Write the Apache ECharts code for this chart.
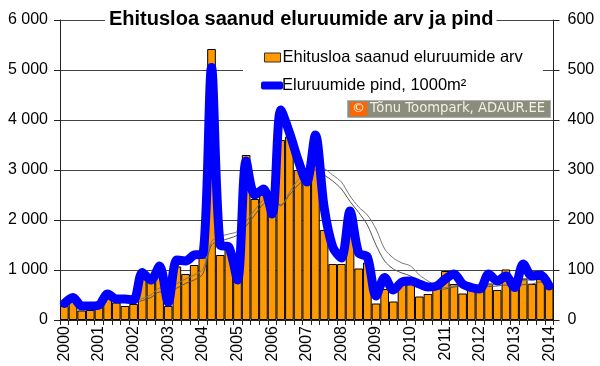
<!DOCTYPE html>
<html><head><meta charset="utf-8">
<style>html,body{margin:0;padding:0;background:#fff}#c{width:600px;height:366px}</style>
<script src="https://cdn.jsdelivr.net/npm/echarts@6/dist/echarts.min.js"></script>
</head><body><div id="c"></div>
<script>
const years = [2000,2001,2002,2003,2004,2005,2006,2007,2008,2009,2010,2011,2012,2013,2014];
const categories = years.flatMap(y => y === 2014 ? [y + ' Q1'] : [y + ' Q1', y + ' Q2', y + ' Q3', y + ' Q4']);
const permits = [280,370,190,200, 340,430,350,280, 320,850,790,1000, 280,1070,920,1100, 1250,5420,1300,1480, 800,3300,2420,2500, 2080,3600,3670,3000, 2740,3100,1800,1120, 1120,2100,1030,1150, 330,620,370,750, 830,470,520,650, 980,720,530,600, 620,730,600,1010, 620,830,720,820, 700];
const area = [33,45,28,28, 30,52,42,42, 40,95,80,108, 35,120,118,130, 132,505,150,146, 80,318,250,262, 212,420,375,320, 276,370,226,146, 124,218,134,126, 48,85,60,76, 78,72,66,68, 82,92,72,65, 62,92,78,88, 65,112,88,90, 68];
const maUpper = [null,null,null,null,null,null,null,null, 360,430,500,640, 650,730,820,900, 1010,1570,1670,1720, 1770,1970,2200,2400, 2430,2280,2550,2800, 2950,3080,3030,2900, 2760,2480,2260,2100, 1820,1420,1240,1140, 1080,900,780,680, 650,680,720,700, 690,700,720,780, 730,790,800,840, 760];
const maLower = [null,null,null,null,null,null,null,null, 340,390,450,560, 560,640,730,800, 920,1500,1580,1630, 1700,1880,2100,2320, 2420,2300,2500,2700, 2850,3000,2900,2780, 2620,2370,2150,1900, 1500,1180,1020,940, 880,760,680,610, 620,660,680,660, 660,670,680,700, 640,710,720,760, 760];
const titleText = 'Ehitusloa saanud eluruumide arv ja pind';
const barName = 'Ehitusloa saanud eluruumide arv';
const lineName = 'Eluruumide pind, 1000m²';
const creditText = 'Tõnu Toompark, ADAUR.EE';

const font = '"Liberation Sans", Arial, sans-serif';
const chart = echarts.init(document.getElementById('c'), null, {renderer:'canvas'});
chart.setOption({
  animation:false,
  backgroundColor:'#fff',
  textStyle:{fontFamily:font,color:'#000'},
  title:{text:titleText,left:105,top:7,padding:[1,3,1,4],backgroundColor:'#fff',
    textStyle:{fontFamily:font,fontSize:20,fontWeight:'bold',color:'#000',lineHeight:22}},
  legend:[
    {data:[{name:barName,icon:'rect'}],left:264,top:49,padding:0,itemWidth:16,itemHeight:9,
     itemStyle:{color:'#ff9900',borderColor:'#333',borderWidth:1},
     textStyle:{fontFamily:font,fontSize:16.5,color:'#000',padding:[0,0,0,-3]}},
    {data:[{name:lineName,icon:'roundRect'}],left:261,top:77,padding:0,itemWidth:22,itemHeight:8,
     itemStyle:{color:'#0000ff',borderWidth:0},
     textStyle:{fontFamily:font,fontSize:16.5,color:'#000',padding:[0,0,0,-6]}}
  ],
  grid:{left:60,right:46.5,top:20,bottom:46,containLabel:false},
  xAxis:{type:'category',data:categories,boundaryGap:true,
    axisLine:{lineStyle:{color:'#222',width:1}},
    axisTick:{show:true,interval:0,length:5,lineStyle:{color:'#222'}},
    axisLabel:{interval:3,rotate:90,fontFamily:font,fontSize:16,color:'#000',margin:6,
      formatter:v=>v.slice(0,4)}},
  yAxis:[
    {type:'value',min:0,max:6000,interval:1000,
     axisLine:{show:true,lineStyle:{color:'#222'}},
     axisTick:{show:true,length:6,lineStyle:{color:'#222'}},
     splitLine:{show:true,lineStyle:{color:'#444',width:1}},
     axisLabel:{fontFamily:font,fontSize:16,color:'#000',margin:12,
       formatter:v=>String(v).replace(/\B(?=(\d{3})+$)/g,' ')}},
    {type:'value',min:0,max:600,interval:100,position:'right',
     axisLine:{show:true,lineStyle:{color:'#222'}},
     axisTick:{show:true,length:6,lineStyle:{color:'#222'}},
     splitLine:{show:false},
     axisLabel:{fontFamily:font,fontSize:16,color:'#000',margin:14}}
  ],
  series:[
    {name:barName,type:'bar',data:permits,barWidth:'100%',barGap:0,z:2,
     itemStyle:{color:'#ff9900',borderColor:'#000',borderWidth:1}},
    {name:'maUpper',type:'line',data:maUpper,yAxisIndex:0,smooth:0.3,symbol:'none',z:3,
     lineStyle:{color:'#777',width:1}},
    {name:'maLower',type:'line',data:maLower,yAxisIndex:0,smooth:0.3,symbol:'none',z:3,
     lineStyle:{color:'#555',width:1}},
    {name:lineName,type:'line',data:area,yAxisIndex:1,smooth:0.3,symbol:'none',z:4,
     lineStyle:{color:'#0000ff',width:9,cap:'round',join:'round'},itemStyle:{color:'#0000ff'}}
  ],
  graphic:[
    {type:'rect',z:1,shape:{x:243,y:40,width:300,height:60},style:{fill:'#fff'}},
    {type:'rect',z:10,shape:{x:347.5,y:100.5,width:203,height:17},style:{fill:'#8c8c7c',stroke:'#b0b0a8',lineWidth:1}},
    {type:'rect',z:11,shape:{x:350,y:102,width:17,height:14},style:{fill:'#ff6600'}},
    {type:'text',z:12,x:358.5,y:109,style:{text:'©',fill:'#fff',font:'13px "DejaVu Sans"',align:'center',verticalAlign:'middle'}},
    {type:'text',z:12,x:370,y:109,style:{text:creditText,fill:'#f0f0e8',font:'13.2px "DejaVu Sans"',verticalAlign:'middle'}}
  ]
});
</script></body></html>
